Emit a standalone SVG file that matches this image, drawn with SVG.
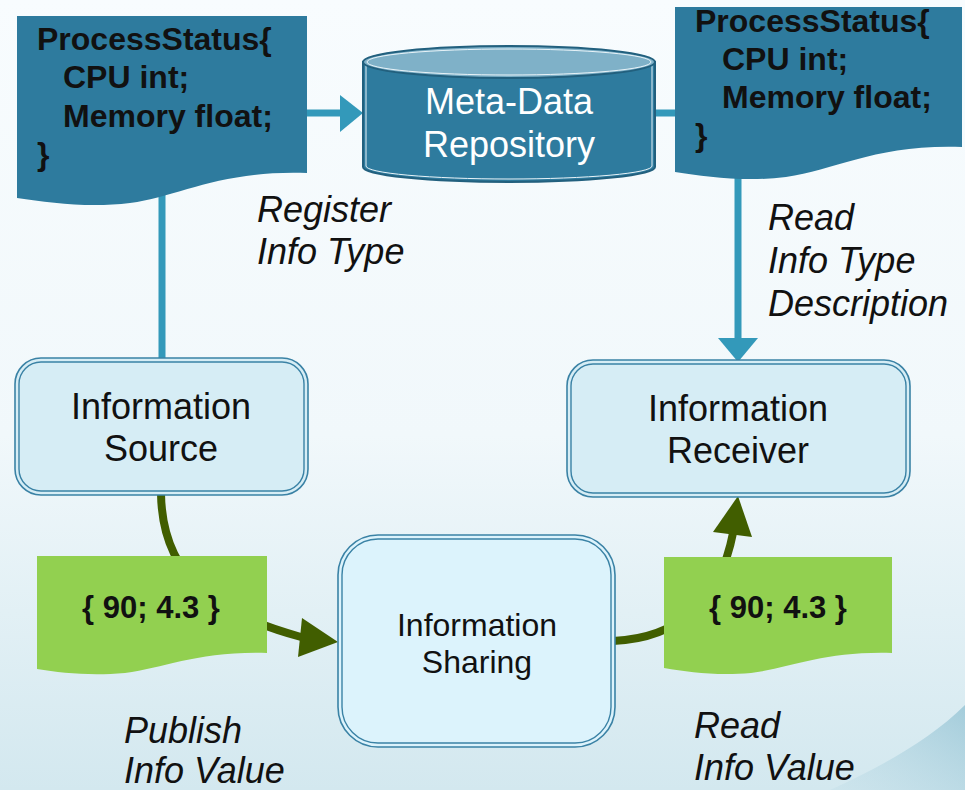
<svg xmlns="http://www.w3.org/2000/svg" width="965" height="790" viewBox="0 0 965 790">
  <defs>
    <linearGradient id="bg" x1="0" y1="0" x2="0" y2="1">
      <stop offset="0" stop-color="#f8fcfe"/>
      <stop offset="0.55" stop-color="#f1f8fb"/>
      <stop offset="1" stop-color="#d3e8ef"/>
    </linearGradient>
    <linearGradient id="swoosh" x1="0" y1="1" x2="1" y2="0">
      <stop offset="0" stop-color="#a9d0de" stop-opacity="0.15"/>
      <stop offset="1" stop-color="#7fb7cb" stop-opacity="0.6"/>
    </linearGradient>
    <style>
      .doc { fill: #2e7b9e; }
      .doctext { font-family: "Liberation Sans", Arial, sans-serif; font-weight: bold; font-size: 32px; fill: #111; }
      .val { fill: #92d050; }
      .valtext { font-family: "Liberation Sans", Arial, sans-serif; font-weight: bold; font-size: 31px; fill: #111; text-anchor: middle; }
      .box { fill: #d6edf5; stroke: #3a82a5; stroke-width: 1.6; }
      .boxin { fill: none; stroke: #3a82a5; stroke-width: 1.4; }
      .nodetext { font-family: "Liberation Sans", Arial, sans-serif; font-size: 36px; fill: #111; text-anchor: middle; }
      .label { font-family: "Liberation Sans", Arial, sans-serif; font-style: italic; font-size: 36px; fill: #111; }
      .teal { stroke: #3399ba; stroke-width: 7; fill: none; }
      .tealhead { fill: #3399ba; }
      .green { stroke: #415e00; stroke-width: 8; fill: none; }
      .greenhead { fill: #415e00; }
    </style>
  </defs>

  <!-- background -->
  <rect x="0" y="0" width="965" height="790" fill="url(#bg)"/>
  <path d="M830,790 C 885,765 932,738 965,705 L965,790 Z" fill="url(#swoosh)"/>

  <!-- connectors -->
  <g id="connectors">
    <line class="teal" x1="307" y1="113" x2="342" y2="113"/>
    <polygon class="tealhead" points="340,95 363,113 340,132"/>
    <line class="teal" x1="654" y1="113" x2="678" y2="113"/>
    <line class="teal" x1="162" y1="195" x2="162" y2="360"/>
    <line class="teal" x1="738" y1="170" x2="738" y2="340"/>
    <polygon class="tealhead" points="718,338 758,338 738,362"/>
    <path class="green" d="M161,493 C 162,580 220,615 301,637"/>
    <polygon class="greenhead" points="302,618 338,642 298,657"/>
    <path class="green" d="M613,641 C 680,638 720,600 733,533"/>
    <polygon class="greenhead" points="713,532 738,496 752,537"/>
  </g>

  <!-- type description written by the source -->
  <g id="type-source">
    <path class="doc" d="M17,16 H307 V173 C 220,170 180,196 130,203 C 90,208 50,203 17,198 Z"/>
    <text class="doctext" x="37" y="50">ProcessStatus{</text>
    <text class="doctext" x="63" y="88">CPU int;</text>
    <text class="doctext" x="63" y="127">Memory float;</text>
    <text class="doctext" x="37" y="165">}</text>
  </g>

  <!-- meta-data repository -->
  <g id="repository">
    <path d="M363,62 V167 A146,15 0 0 0 655,167 V62 Z" fill="#2e7b9e" stroke="#22607e" stroke-width="2"/>
    <path d="M366,64 V166 A143,13 0 0 0 652,166 V64" fill="none" stroke="#e8f3f8" stroke-width="1"/>
    <ellipse cx="509" cy="62" rx="146" ry="16" fill="#7fb1c8" stroke="#22607e" stroke-width="2"/>
    <ellipse cx="509" cy="62" rx="142" ry="13" fill="none" stroke="#e8f3f8" stroke-width="1"/>
    <text class="nodetext" x="509" y="114" style="fill:#ffffff">Meta-Data</text>
    <text class="nodetext" x="509" y="157" style="fill:#ffffff">Repository</text>
  </g>

  <!-- type description read by the receiver -->
  <g id="type-receiver">
    <path class="doc" d="M675,7 H962 V147 C 876,144 836,170 786,177 C 746,182 706,177 675,172 Z"/>
    <text class="doctext" x="695" y="32">ProcessStatus{</text>
    <text class="doctext" x="722" y="70">CPU int;</text>
    <text class="doctext" x="722" y="108">Memory float;</text>
    <text class="doctext" x="695" y="146">}</text>
  </g>

  <!-- information source -->
  <g id="source">
    <rect class="box" x="15" y="358" width="293" height="137" rx="26"/>
    <rect class="boxin" x="19" y="362" width="285" height="129" rx="22"/>
    <text class="nodetext" x="161" y="419">Information</text>
    <text class="nodetext" x="161" y="461">Source</text>
  </g>

  <!-- information receiver -->
  <g id="receiver">
    <rect class="box" x="567" y="360" width="343" height="137" rx="26"/>
    <rect class="boxin" x="571" y="364" width="335" height="129" rx="22"/>
    <text class="nodetext" x="738" y="421">Information</text>
    <text class="nodetext" x="738" y="463">Receiver</text>
  </g>

  <!-- information sharing -->
  <g id="sharing">
    <rect class="box" x="338" y="535" width="277" height="212" rx="40" style="fill:#dcf3fc"/>
    <rect class="boxin" x="342" y="539" width="269" height="204" rx="36"/>
    <text class="nodetext" x="477" y="636" style="font-size:32px">Information</text>
    <text class="nodetext" x="477" y="673" style="font-size:32px">Sharing</text>
  </g>

  <!-- published value -->
  <g id="value-published">
    <path class="val" d="M37,556 H267 V653 C 198,651 165,668 125,673 C 90,676 62,673 37,669 Z"/>
    <text class="valtext" x="151" y="618">{ 90; 4.3 }</text>
  </g>

  <!-- value read by the receiver -->
  <g id="value-read">
    <path class="val" d="M664,557 H892 V653 C 824,651 791,668 751,673 C 716,676 689,672 664,668 Z"/>
    <text class="valtext" x="778" y="618">{ 90; 4.3 }</text>
  </g>

  <!-- step labels -->
  <g id="labels">
    <text class="label" x="257" y="222">Register</text>
    <text class="label" x="257" y="264">Info Type</text>
    <text class="label" x="768" y="230">Read</text>
    <text class="label" x="768" y="273">Info Type</text>
    <text class="label" x="768" y="316">Description</text>
    <text class="label" x="124" y="743">Publish</text>
    <text class="label" x="124" y="783">Info Value</text>
    <text class="label" x="694" y="738">Read</text>
    <text class="label" x="694" y="780">Info Value</text>
  </g>
</svg>
